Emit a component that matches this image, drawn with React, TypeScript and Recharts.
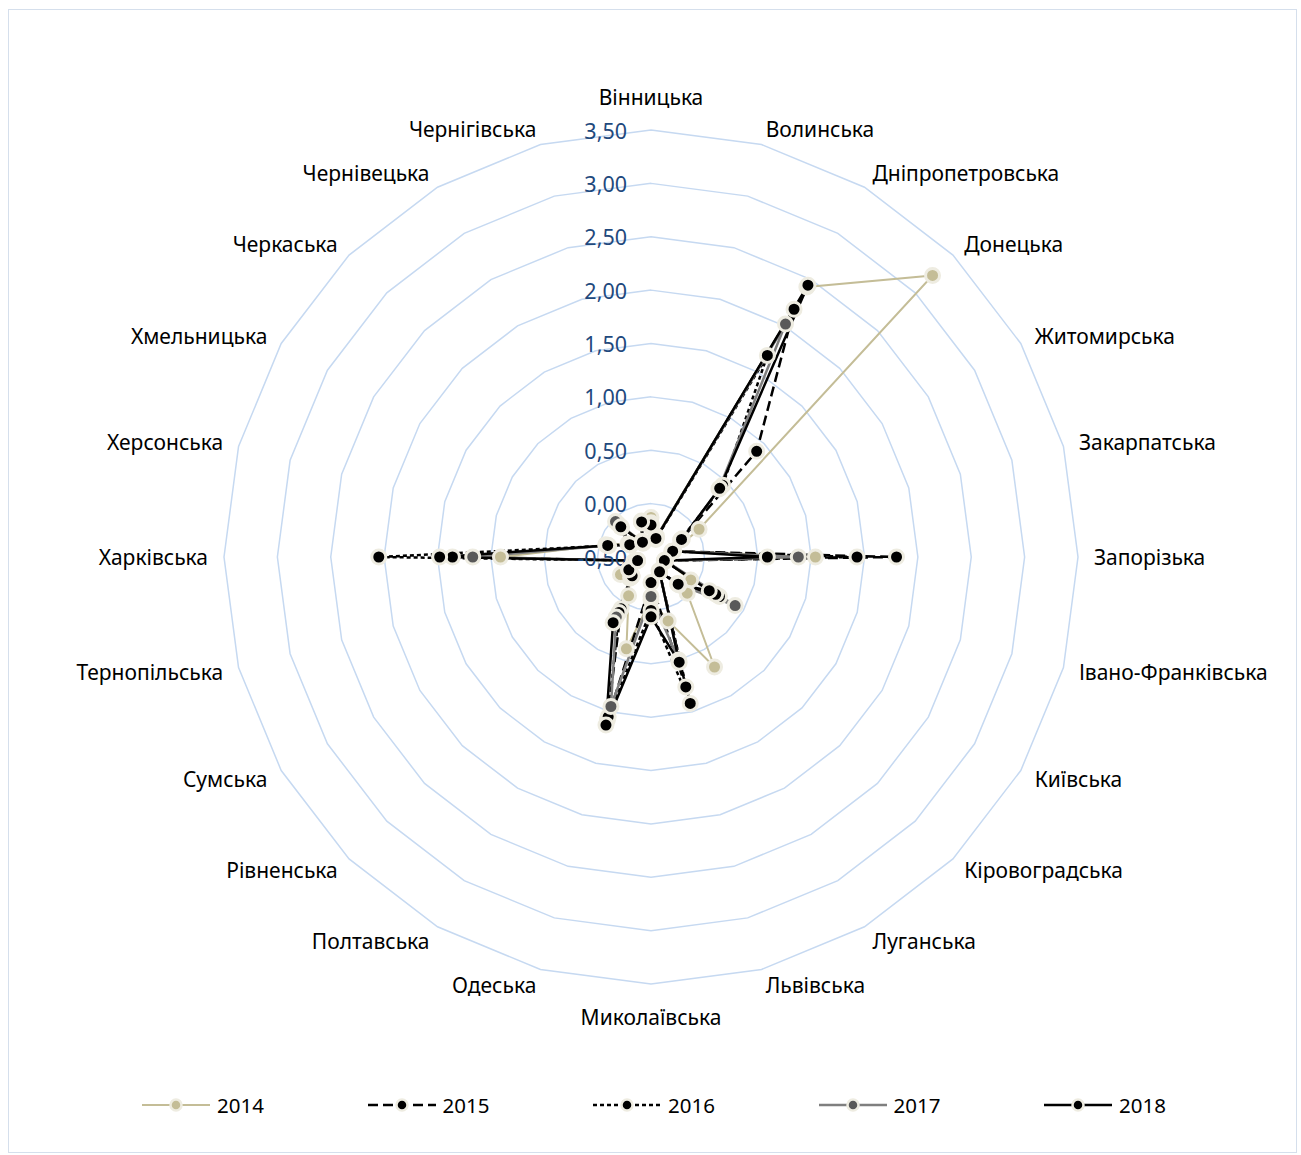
import { RadarChart, Radar, PolarGrid, PolarAngleAxis, PolarRadiusAxis, Legend } from "recharts";

const regions = [
  "Вінницька", "Волинська", "Дніпропетровська", "Донецька", "Житомирська", "Закарпатська",
  "Запорізька", "Івано-Франківська", "Київська", "Кіровоградська", "Луганська", "Львівська",
  "Миколаївська", "Одеська", "Полтавська", "Рівненська", "Сумська", "Тернопільська",
  "Харківська", "Херсонська", "Хмельницька", "Черкаська", "Чернівецька", "Чернігівська",
];

const y2014 = [-0.13, -0.3, 2.42, 3.23, 0.02, -0.28, 1.04, -0.36, -0.07, -0.02, 0.69, 0.12, -0.1, 0.39, -0.08, -0.22, -0.17, -0.33, 0.91, -0.06, -0.25, -0.06, -0.33, -0.15];
const y2015 = [-0.22, -0.32, 2.18, 0.9, -0.17, -0.29, 1.8, -0.37, 0.24, -0.14, -0.34, 0.76, -0.26, 1.08, 0.06, -0.25, -0.26, -0.37, 1.36, -0.08, -0.27, -0.1, -0.34, -0.16];
const y2016 = [-0.2, -0.33, 1.68, 0.45, -0.18, -0.3, 1.43, -0.37, 0.2, -0.15, -0.35, 0.92, 0.0, 1.05, 0.1, -0.24, -0.27, -0.37, 2.05, -0.09, -0.28, -0.11, -0.35, -0.17];
const y2017 = [-0.18, -0.31, 2.02, 0.4, -0.16, -0.29, 0.88, -0.36, 0.41, -0.13, -0.34, 0.5, -0.13, 0.95, 0.15, -0.23, -0.26, -0.36, 1.17, -0.08, -0.27, -0.03, -0.34, -0.16];
const y2018 = [-0.2, -0.32, 2.44, 0.41, -0.17, -0.29, 0.59, -0.37, 0.13, -0.14, -0.34, 0.52, 0.06, 1.13, 0.21, -0.25, -0.26, -0.37, 1.48, -0.08, -0.27, -0.1, -0.34, -0.16];

const radialTicks = [-0.5, 0, 0.5, 1, 1.5, 2, 2.5, 3, 3.5];

const data = regions.map((name, i) => ({
  name,
  y2014: y2014[i],
  y2015: y2015[i],
  y2016: y2016[i],
  y2017: y2017[i],
  y2018: y2018[i],
}));

const CX = 651;
const CY = 557;
const R = 427; // radius of the 3,50 ring
// recharts stretches the radius domain up to 4 (nice ticks), so the full
// radius is set so that 3,50 still lands on R
const OUTER = (R * 4.5) / 4;
const FONT = "'Noto Sans', sans-serif";
const RING = "#eeece1";

const series = [
  { key: "y2014", name: "2014", stroke: "#c4bd97", dot: "#c4bd97", width: 2, dash: undefined },
  { key: "y2015", name: "2015", stroke: "#000000", dot: "#000000", width: 2.5, dash: "10 5" },
  { key: "y2016", name: "2016", stroke: "#000000", dot: "#000000", width: 2.5, dash: "4 3" },
  { key: "y2017", name: "2017", stroke: "#7f7f7f", dot: "#595959", width: 2.5, dash: undefined },
  { key: "y2018", name: "2018", stroke: "#000000", dot: "#000000", width: 2.5, dash: undefined },
];

const fmt = (v: number) => v.toFixed(2).replace(".", ",");

function AngleTick(props: any) {
  const { index, payload } = props;
  const deg = 90 - (index * 360) / regions.length;
  const a = (deg * Math.PI) / 180;
  const rr = R + 16;
  const x = CX + rr * Math.cos(a);
  let y = CY - rr * Math.sin(a);
  const c = Math.cos(a);
  const s = Math.sin(a);
  const anchor = Math.abs(c) < 0.01 ? "middle" : c > 0 ? "start" : "end";
  if (Math.abs(c) < 0.01) y += s > 0 ? -17 : 17;
  return (
    <text x={x} y={y} textAnchor={anchor} dominantBaseline="central" fontFamily={FONT} fontSize={21} fill="#000">
      {payload.value}
    </text>
  );
}

function RadiusTick(props: any) {
  const { x, y, payload } = props;
  return (
    <text x={x - 24} y={y} textAnchor="end" dominantBaseline="central" fontFamily={FONT} fontSize={21.5} fill="#1f497d">
      {fmt(payload.value)}
    </text>
  );
}

const makeDot = (fill: string) => (props: any) => {
  const { cx, cy, index } = props;
  if (cx == null || cy == null) return <g key={index} />;
  return <circle key={index} cx={cx} cy={cy} r={7} fill={fill} stroke={RING} strokeWidth={3} />;
};

function LegendContent() {
  return (
    <div style={{ position: "relative", fontFamily: FONT, fontSize: 20.5, height: 24 }}>
      {series.map((s, i) => (
        <div key={s.key} style={{ position: "absolute", left: 141 + i * 225.5, top: 0, display: "flex", alignItems: "center" }}>
          <svg width={70} height={20}>
            <line x1={1} y1={10} x2={69} y2={10} stroke={s.stroke} strokeWidth={s.width} strokeDasharray={s.dash} />
            <circle cx={35} cy={10} r={5.5} fill={s.dot} stroke={RING} strokeWidth={2.5} />
          </svg>
          <span style={{ marginLeft: 6 }}>{s.name}</span>
        </div>
      ))}
    </div>
  );
}

export default function App() {
  return (
    <div style={{ position: "absolute", left: 0, top: 0, width: 1301, height: 1155, background: "#fff" }}>
      <div style={{ position: "absolute", left: 8, top: 9, width: 1287, height: 1142, border: "1px solid #d5dfec" }} />
      <RadarChart
        width={1301}
        height={1155}
        data={data}
        cx={CX}
        cy={CY}
        outerRadius={OUTER}
        margin={{ top: 0, right: 0, bottom: 0, left: 0 }}
      >
        <PolarGrid gridType="polygon" radialLines={false} stroke="#c6d9f1" strokeWidth={1.5} />
        <PolarAngleAxis dataKey="name" tick={AngleTick} tickLine={false} axisLine={false} />
        <PolarRadiusAxis
          angle={90}
          type="number"
          domain={[-0.5, 3.5]}
          allowDataOverflow
          tickCount={9}
          ticks={radialTicks as any}
          tick={RadiusTick}
          tickLine={false}
          axisLine={false}
        />
        {series.map((s) => (
          <Radar
            key={s.key}
            dataKey={s.key}
            name={s.name}
            stroke={s.stroke}
            strokeWidth={s.width}
            strokeDasharray={s.dash}
            fill="none"
            fillOpacity={0}
            dot={makeDot(s.dot)}
            isAnimationActive={false}
          />
        ))}
        <Legend content={LegendContent} wrapperStyle={{ position: "absolute", left: 0, top: 1091, width: 1301, height: 24 }} />
      </RadarChart>
    </div>
  );
}
